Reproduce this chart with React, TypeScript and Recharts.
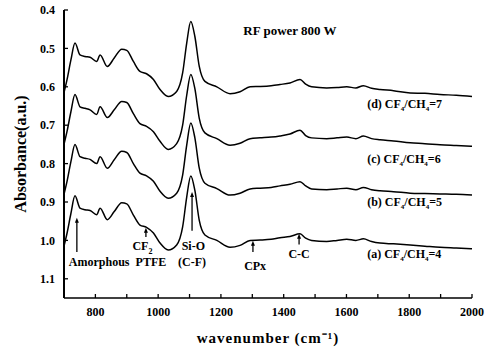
import { LineChart, Line, XAxis, YAxis, ReferenceLine, ReferenceDot } from "recharts";

// wavenumber (cm-1) sample points
const wavenumbers = [
  700, 710, 722, 735, 751, 767, 783, 804, 815, 838, 860, 884, 900, 921, 942, 963, 985, 1006, 1032, 1059,
  1078, 1091, 1104, 1117, 1131, 1149, 1187, 1229, 1261, 1293, 1325, 1360, 1388, 1420, 1452, 1470, 1489,
  1537, 1570, 1601, 1630, 1654, 1680, 1707, 1750, 1803, 1850, 1898, 1950, 2000,
];

// (a) CF4/CH4=4
const ratio4 = [
  1.015, 0.98, 0.93, 0.884, 0.916, 0.92, 0.922, 0.933, 0.916, 0.946, 0.925, 0.902, 0.905, 0.934, 0.96, 0.966,
  0.981, 1.007, 1.025, 1.012, 0.965, 0.887, 0.832, 0.87, 0.948, 0.986, 1.0, 1.018, 1.013, 1.0, 0.999, 0.997,
  0.993, 0.99, 0.983, 0.994, 1.0, 1.003, 1.0, 0.997, 1.0, 0.996, 1.003, 1.007, 1.009, 1.012, 1.015, 1.018,
  1.02, 1.022,
];
// (b) CF4/CH4=5
const ratio5 = [
  0.88, 0.845, 0.795, 0.75, 0.782, 0.786, 0.789, 0.8, 0.782, 0.812, 0.79, 0.768, 0.771, 0.8, 0.825, 0.832,
  0.846, 0.872, 0.89, 0.877, 0.83, 0.752, 0.694, 0.733, 0.812, 0.851, 0.865, 0.882, 0.877, 0.866, 0.864,
  0.862, 0.858, 0.854, 0.847, 0.858, 0.866, 0.868, 0.866, 0.864, 0.868, 0.862, 0.868, 0.871, 0.873, 0.877,
  0.878, 0.879, 0.88, 0.882,
];
// (c) CF4/CH4=6
const ratio6 = [
  0.75, 0.715, 0.665, 0.62, 0.652, 0.656, 0.66, 0.672, 0.652, 0.68, 0.66, 0.638, 0.641, 0.67, 0.696, 0.703,
  0.717, 0.742, 0.763, 0.748, 0.7, 0.622, 0.568, 0.605, 0.682, 0.72, 0.735, 0.752, 0.747, 0.735, 0.733,
  0.731, 0.728, 0.723, 0.713, 0.727, 0.733, 0.735, 0.733, 0.731, 0.735, 0.728, 0.735, 0.738, 0.741, 0.746,
  0.748, 0.751, 0.753, 0.755,
];
// (d) CF4/CH4=7
const ratio7 = [
  0.615, 0.58, 0.53, 0.486, 0.517, 0.521, 0.523, 0.534, 0.517, 0.547, 0.525, 0.502, 0.505, 0.534, 0.56, 0.566,
  0.581, 0.607, 0.625, 0.612, 0.564, 0.486, 0.43, 0.469, 0.547, 0.586, 0.6, 0.618, 0.613, 0.6, 0.599, 0.597,
  0.594, 0.59, 0.581, 0.593, 0.6, 0.603, 0.602, 0.6, 0.603, 0.597, 0.604, 0.607, 0.61, 0.616, 0.617, 0.62,
  0.622, 0.625,
];

const xTicks = [800, 900, 1000, 1100, 1200, 1300, 1400, 1500, 1600, 1700, 1800, 1900, 2000];
const yTicks = [0.4, 0.5, 0.6, 0.7, 0.8, 0.9, 1.0, 1.1];

// curve labels: [prefix, ratio value, x, y]
const curveLabels: [string, string, number, number][] = [
  ["(d) CF", "7", 1666, 0.646],
  ["(c) CF", "6", 1666, 0.789],
  ["(b) CF", "5", 1666, 0.899],
  ["(a) CF", "4", 1666, 1.035],
];

// band assignment arrows: x, from (bottom), to (tip)
const arrows = [
  { x: 741, from: 1.03, to: 0.941 },
  { x: 961, from: 0.991, to: 0.967 },
  { x: 1108, from: 0.975, to: 0.874 },
  { x: 1302, from: 1.03, to: 1.001 },
  { x: 1449, from: 1.011, to: 0.983 },
];

const bandTexts: { text: string; sub?: string; x: number; y: number }[] = [
  { text: "Amorphous", x: 812, y: 1.055 },
  { text: "CF", sub: "2", x: 950, y: 1.014 },
  { text: "PTFE", x: 977, y: 1.055 },
  { text: "Si-O", x: 1112, y: 1.014 },
  { text: "(C-F)", x: 1108, y: 1.055 },
  { text: "CPx", x: 1309, y: 1.066 },
  { text: "C-C", x: 1449, y: 1.035 },
];

const data = wavenumbers.map((w, i) => ({
  w,
  a: ratio4[i],
  b: ratio5[i],
  c: ratio6[i],
  d: ratio7[i],
}));

const FONT = "'Liberation Serif', 'Times New Roman', serif";

const ArrowShape = (props: any) => {
  const { x1, y1, x2, y2 } = props;
  if (x1 == null || y1 == null) return null;
  const tipY = Math.min(y1, y2);
  const baseY = Math.max(y1, y2);
  return (
    <g>
      <line x1={x1} x2={x2} y1={baseY} y2={tipY + 3} stroke="#000" strokeWidth={1.3} />
      <path d={`M${x1 - 2},${tipY + 5} L${x1},${tipY} L${x1 + 2},${tipY + 5} Z`} fill="#000" />
    </g>
  );
};

export default function App() {
  return (
    <div style={{ position: "absolute", left: 0, top: 0, background: "#fff" }}>
      <LineChart
        width={489}
        height={355}
        data={data}
        margin={{ top: 10, right: 17, bottom: 0, left: 0 }}
        style={{ fontFamily: FONT }}
      >
        <XAxis
          dataKey="w"
          type="number"
          domain={[700, 2000]}
          ticks={xTicks}
          tickFormatter={(v: number) => (v % 200 === 0 ? String(v) : "")}
          height={57}
          tickSize={-4}
          tickMargin={13}
          axisLine={{ stroke: "#000", strokeWidth: 1.6 }}
          tickLine={{ stroke: "#000", strokeWidth: 1.3 }}
          tick={{ fill: "#000", fontSize: 12, fontWeight: "bold", fontFamily: FONT }}
          label={{
            value: "wavenumber (cm\u207B\u00B9)",
            position: "insideBottom",
            offset: 12,
            style: { fill: "#000", fontSize: 15, fontWeight: "bold", fontFamily: FONT, letterSpacing: 1 },
          }}
        />
        <XAxis
          xAxisId="top"
          orientation="top"
          dataKey="w"
          type="number"
          domain={[700, 2000]}
          ticks={xTicks}
          tickFormatter={() => ""}
          height={0}
          tickSize={-4}
          axisLine={{ stroke: "#000", strokeWidth: 1.6 }}
          tickLine={{ stroke: "#000", strokeWidth: 1.3 }}
        />
        <YAxis
          type="number"
          domain={[0.4, 1.15]}
          reversed
          ticks={yTicks}
          allowDataOverflow
          width={64}
          tickSize={-4}
          tickMargin={13}
          tickFormatter={(v: number) => v.toFixed(1)}
          axisLine={{ stroke: "#000", strokeWidth: 2 }}
          tickLine={{ stroke: "#000", strokeWidth: 1.3 }}
          tick={{ fill: "#000", fontSize: 12, fontWeight: "bold", fontFamily: FONT }}
          label={{
            value: "Absorbance(a.u.)",
            angle: -90,
            position: "insideLeft",
            offset: 20,
            style: { textAnchor: "middle", fill: "#000", fontSize: 16, fontWeight: "bold", fontFamily: FONT },
          }}
        />
        <YAxis
          yAxisId="right"
          orientation="right"
          type="number"
          domain={[0.4, 1.15]}
          reversed
          ticks={yTicks}
          allowDataOverflow
          width={0}
          tickSize={-4}
          tickFormatter={() => ""}
          axisLine={{ stroke: "#000", strokeWidth: 1.6 }}
          tickLine={{ stroke: "#000", strokeWidth: 1.3 }}
        />

        {(["a", "b", "c", "d"] as const).map((k) => (
          <Line
            key={k}
            dataKey={k}
            type="monotone"
            stroke="#000"
            strokeWidth={1.5}
            dot={false}
            activeDot={false}
            isAnimationActive={false}
          />
        ))}

        {arrows.map((a, i) => (
          <ReferenceLine
            key={"arr" + i}
            segment={[
              { x: a.x, y: a.from },
              { x: a.x, y: a.to },
            ]}
            stroke="#000"
            shape={ArrowShape}
          />
        ))}

        {bandTexts.map((t, i) => (
          <ReferenceDot
            key={"bt" + i}
            x={t.x}
            y={t.y}
            r={0}
            stroke="none"
            label={(p: any) => {
              const vb = p.viewBox || {};
              const cx = (vb.x ?? 0) + (vb.width ?? 0) / 2;
              const cy = (vb.y ?? 0) + (vb.height ?? 0) / 2;
              return (
                <text x={cx} y={cy} dy={4} textAnchor="middle" fill="#000" fontSize={12} fontWeight="bold" fontFamily={FONT}>
                  {t.text}
                  {t.sub && (
                    <tspan dy={4} fontSize={8}>
                      {t.sub}
                    </tspan>
                  )}
                </text>
              );
            }}
          />
        ))}

        {curveLabels.map(([pre, val, x, y], i) => (
          <ReferenceDot
            key={"cl" + i}
            x={x}
            y={y}
            r={0}
            stroke="none"
            label={(p: any) => {
              const vb = p.viewBox || {};
              const cx = (vb.x ?? 0) + (vb.width ?? 0) / 2;
              const cy = (vb.y ?? 0) + (vb.height ?? 0) / 2;
              return (
                <text x={cx} y={cy} dy={4} fill="#000" fontSize={12} fontWeight="bold" fontFamily={FONT}>
                  {pre}
                  <tspan dy={3} fontSize={7}>4</tspan>
                  <tspan dy={-3}>/CH</tspan>
                  <tspan dy={3} fontSize={7}>4</tspan>
                  <tspan dy={-3}>={val}</tspan>
                </text>
              );
            }}
          />
        ))}

        <ReferenceDot
          x={1420}
          y={0.455}
          r={0}
          stroke="none"
          label={(p: any) => {
            const vb = p.viewBox || {};
            const cx = (vb.x ?? 0) + (vb.width ?? 0) / 2;
            const cy = (vb.y ?? 0) + (vb.height ?? 0) / 2;
            return (
              <text x={cx} y={cy} dy={4} textAnchor="middle" fill="#000" fontSize={13} fontWeight="bold" fontFamily={FONT}>
                RF power 800 W
              </text>
            );
          }}
        />
      </LineChart>
    </div>
  );
}
